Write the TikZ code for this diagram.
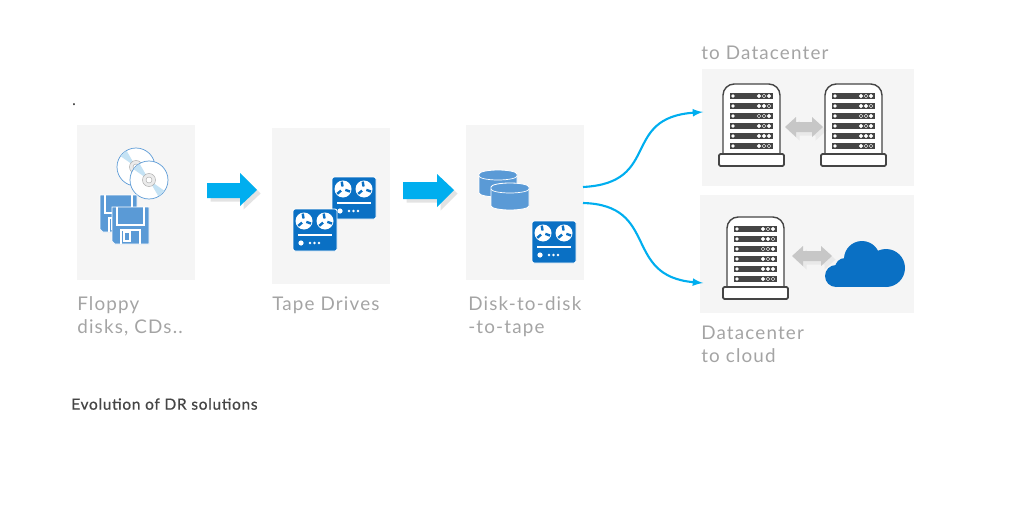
\documentclass[tikz,border=0pt]{standalone}
\usepackage{fontspec}
\setmainfont{Lato}
\newfontfamily\captionfont[LetterSpace=6.2]{Lato}
\newfontfamily\titlefont[LetterSpace=4.5,FakeBold=0.6]{Lato}
\usetikzlibrary{shadows}

\definecolor{panelgray}{HTML}{F5F5F5}
\definecolor{captiongray}{HTML}{A4A4A4}
\definecolor{flowblue}{HTML}{00AEEF}
\definecolor{tapeblue}{HTML}{0A70C4}
\definecolor{softblue}{HTML}{5A9AD6}
\definecolor{sheenblue}{HTML}{C4E2F4}
\definecolor{rackdark}{HTML}{454545}

\tikzset{
	panel/.style={fill=panelgray, draw=none, inner sep=0pt},
	caption/.style={anchor=north west, inner sep=0pt, align=left, text=captiongray, font=\captionfont\fontsize{13.4}{16.4}\selectfont},
	flow/.style={draw=flowblue, line width=1.5pt, -latex},
	blockarrow/.style={fill=flowblue, drop shadow={opacity=0.22, shift={(1.2pt,-1.2pt)}}},
	swaparrow/.style={fill=black!22, drop shadow={opacity=0.1, shift={(0.8pt,-0.8pt)}}},
	tapedrive/.pic={
		\filldraw[fill=tapeblue, draw=white, line width=0.6pt, rounded corners=1.5pt] (0,0) rectangle (44,42);
		\foreach \cx in {11,32} {
			\fill[white] (\cx,12) circle[radius=8.5];
			\foreach \a in {20,140,260}
				\draw[tapeblue, line width=1.7pt] (\cx,12) ++(\a:2.5) -- ++(\a:5);
		}
		\draw[white, line width=0.9pt] (5,26) -- (39,26);
		\fill[white] (8,34) circle[radius=2.6];
		\foreach \dx in {17,21.5,26}
			\fill[white] (\dx,34) circle[radius=1.3];
	},
	floppy/.pic={
		\filldraw[fill=softblue, draw=white, line width=0.5pt] (0,0) -- (37,0) -- (37,37) -- (3,37) -- (0,34) -- cycle;
		\draw[white, line width=0.9pt] (5,0) -- (5,18) -- (32,18) -- (32,0);
		\draw[white, line width=0.9pt] (9,37) -- (9,23) -- (28,23) -- (28,37);
		\draw[white, line width=0.8pt] (12,25) rectangle (18,34);
	},
	disc/.pic={
		\filldraw[fill=white, draw=softblue, line width=0.5pt] (0,0) circle[radius=19];
		\fill[sheenblue] (0,0) -- (215:18.6) arc[start angle=215, end angle=240, radius=18.6] -- cycle;
		\fill[sheenblue] (0,0) -- (35:18.6) arc[start angle=35, end angle=60, radius=18.6] -- cycle;
		\filldraw[fill=black!8, draw=black!35, line width=0.3pt] (0,0) circle[radius=6.5];
		\filldraw[fill=white, draw=black!35, line width=0.3pt] (0,0) circle[radius=3];
	},
	drum/.pic={
		\filldraw[fill=softblue, draw=white, line width=0.6pt] (0,4) -- (0,23) arc[start angle=180, end angle=0, x radius=19, y radius=4] -- (38,4) arc[start angle=0, end angle=-180, x radius=19, y radius=4] -- cycle;
		\draw[white, line width=0.5pt] (0,6) arc[start angle=180, end angle=0, x radius=19, y radius=4];
	},
	rack/.pic={
		\filldraw[fill=white, draw=rackdark, line width=1pt, rounded corners=8pt] (0,70) -- (0,0) -- (57,0) -- (57,70);
		\filldraw[fill=white, draw=rackdark, line width=1.3pt, rounded corners=1pt] (-4,70) rectangle (61,82);
		\foreach \row/\dotA/\dotB/\dotC in {12/white/rackdark/white, 22/white/white/rackdark, 32/rackdark/rackdark/white, 42/white/rackdark/white, 52/white/white/white, 62/white/rackdark/rackdark} {
			\fill[rackdark] (7,\row-3) rectangle (50,\row+3);
			\fill[white] (10,\row) circle[radius=1.9];
			\filldraw[fill=\dotA, draw=white, line width=0.3pt] (36,\row) circle[radius=1.9];
			\filldraw[fill=\dotB, draw=white, line width=0.3pt] (41,\row) circle[radius=1.9];
			\filldraw[fill=\dotC, draw=white, line width=0.3pt] (46,\row) circle[radius=1.9];
		}
	}
}

\begin{document}
\begin{tikzpicture}[x=0.025cm, y=-0.025cm]
	\useasboundingbox (0,0) rectangle (1024,512);

	% panels
	\node (floppypanel) [panel, minimum width=2.95cm, minimum height=3.875cm] at (136,202.5) {};
	\node (tapepanel) [panel, minimum width=2.95cm, minimum height=3.9cm] at (331,206) {};
	\node (diskpanel) [panel, minimum width=2.95cm, minimum height=3.875cm] at (525,202.5) {};
	\node (dcpanel) [panel, minimum width=5.3cm, minimum height=2.925cm] at (808,127.5) {};
	\node (cloudpanel) [panel, minimum width=5.35cm, minimum height=2.95cm] at (807,254) {};

	% first panel
	\pic at (136,167) {disc};
	\pic at (149,180) {disc};
	\pic at (100,195) {floppy};
	\pic at (112,207) {floppy};

	% tapes
	\pic at (332,177) {tapedrive};
	\pic at (293,209) {tapedrive};
	\pic at (532,221) {tapedrive};

	% disks
	\pic at (479,170) {drum};
	\pic at (491,183) {drum};

	% racks
	\pic at (723,84) {rack};
	\pic at (825,84) {rack};
	\pic at (727,217) {rack};

	% cloud
	\fill[tapeblue] (862,259) circle[radius=18];
	\fill[tapeblue] (886,268) circle[radius=19];
	\fill[tapeblue] (836,276) circle[radius=11];
	\fill[tapeblue] (845,268) circle[radius=10];
	\fill[tapeblue] (836,268) rectangle (886,287);

	% arrows
	\fill[blockarrow] (207,183) -- (240,183) -- (240,173) -- (257,190) -- (240,206) -- (240,198) -- (207,198) -- cycle;
	\fill[blockarrow] (403,182) -- (437,182) -- (437,174) -- (454,190) -- (437,207) -- (437,199) -- (403,199) -- cycle;
	\fill[swaparrow] (785,127) -- (796,117) -- (796,122) -- (812,122) -- (812,117) -- (823,127) -- (812,137) -- (812,132) -- (796,132) -- (796,137) -- cycle;
	\fill[swaparrow] (792,256) -- (803,246) -- (803,251) -- (821,251) -- (821,246) -- (832,256) -- (821,266) -- (821,261) -- (803,261) -- (803,266) -- cycle;

	% connectors
	\coordinate (diskouta) at (583,187);
	\coordinate (diskoutb) at (583,203);
	\coordinate (dcin) at (703,112);
	\coordinate (cloudin) at (703,283);
	\draw[flow] (diskouta) .. controls (662,183) and (620,118) .. (dcin);
	\draw[flow] (diskoutb) .. controls (660,205) and (622,276) .. (cloudin);

	% text
	\node (dot) [anchor=north west, inner sep=0pt, text=rackdark, font=\titlefont\fontsize{10}{12}\selectfont] at (72,103) {.};
	\node (dctitle) [caption] at (701,46) {to Datacenter};
	\node (floppytext) [caption] at (77,296) {Floppy\\disks, CDs..};
	\node (tapetext) [caption] at (272,296) {Tape Drives};
	\node (disktext) [caption] at (468,296) {Disk-to-disk\\-to-tape};
	\node (cloudtext) [caption] at (701,326) {Datacenter\\to cloud};
	\node (evolution) [anchor=north west, inner sep=0pt, text=rackdark, font=\titlefont\fontsize{11}{13}\selectfont] at (71,398) {Evolution of DR solutions};
\end{tikzpicture}
\end{document}
